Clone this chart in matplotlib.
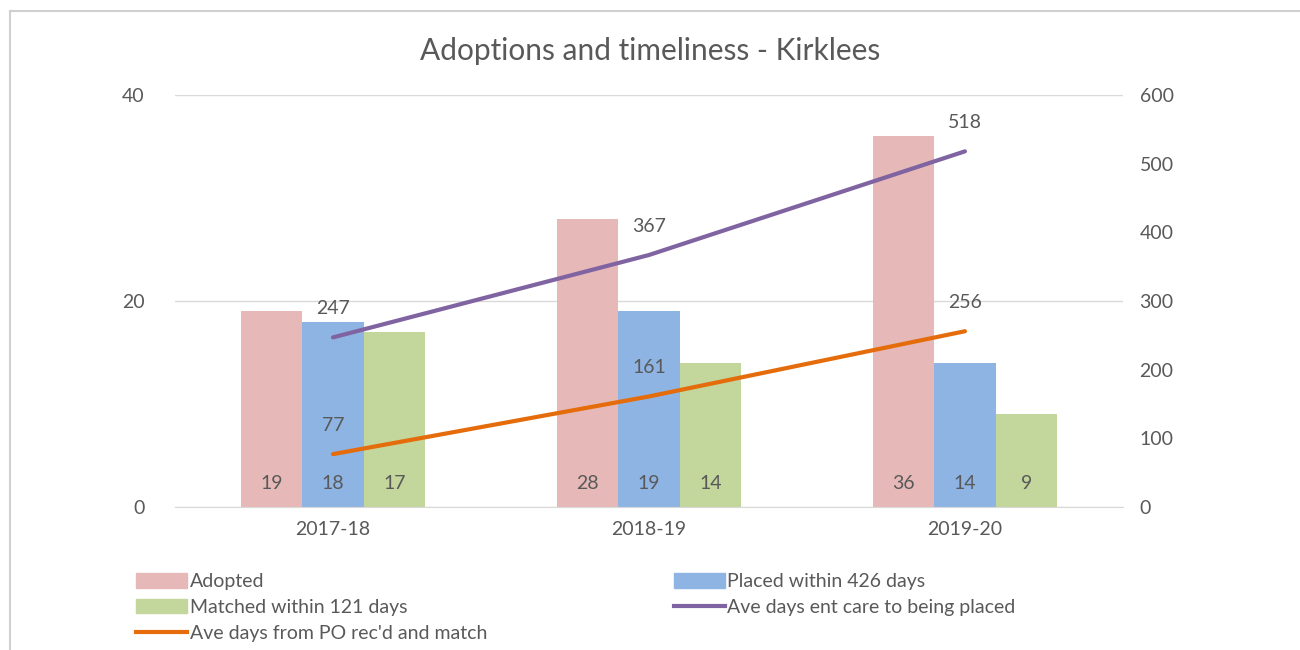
import matplotlib
matplotlib.use("Agg")
import matplotlib.pyplot as plt
import numpy as np
from matplotlib.lines import Line2D

plt.rcParams['font.family'] = ['Lato', 'DejaVu Sans']

categories = ["2017-18", "2018-19", "2019-20"]
adopted = [19, 28, 36]
placed = [18, 19, 14]
matched = [17, 14, 9]
ave_ent_care = [247, 367, 518]
ave_po_match = [77, 161, 256]

TXT = "#595959"
C_ADOPT = "#E6B9B8"
C_PLACED = "#8EB4E3"
C_MATCH = "#C3D69B"
C_PURPLE = "#8064A2"
C_ORANGE = "#E46C0A"
FS = 14

fig = plt.figure(figsize=(13, 6.5), dpi=100)
ax = fig.add_axes([0.1346, 0.22, 0.7292, 0.6338])
ax2 = ax.twinx()

x = np.arange(len(categories))
w = 0.194
b1 = ax.bar(x - w, adopted, w, color=C_ADOPT, zorder=2)
b2 = ax.bar(x, placed, w, color=C_PLACED, zorder=2)
b3 = ax.bar(x + w, matched, w, color=C_MATCH, zorder=2)

for bars, vals in ((b1, adopted), (b2, placed), (b3, matched)):
    for r, v in zip(bars, vals):
        ax.annotate(str(v), (r.get_x() + r.get_width() / 2, 0), xytext=(0, 17),
                    textcoords="offset points", ha="center", va="center",
                    fontsize=FS, color=TXT)

ax.set_xlim(-0.5, 2.5)
ax.set_ylim(0, 40)
ax.set_yticks([0, 20, 40])
ax.grid(axis="y", color="#D9D9D9", lw=1, zorder=0)
ax.set_axisbelow(True)
ax.set_xticks(x)
ax.set_xticklabels(categories)

ax2.plot(x, ave_ent_care, color=C_PURPLE, lw=3, solid_capstyle="round", zorder=3)
ax2.plot(x, ave_po_match, color=C_ORANGE, lw=3, solid_capstyle="round", zorder=3)
for vals in (ave_ent_care, ave_po_match):
    for xi, v in zip(x, vals):
        ax2.annotate(str(v), (xi, v), xytext=(0, 20.5), textcoords="offset points",
                     ha="center", va="center", fontsize=FS, color=TXT)
ax2.set_ylim(0, 600)
ax2.set_yticks(range(0, 601, 100))

for a in (ax, ax2):
    for s in a.spines.values():
        s.set_visible(False)
    a.tick_params(length=0, labelsize=FS, labelcolor=TXT)
ax.spines["bottom"].set_visible(True)
ax.spines["bottom"].set_color("#D9D9D9")
ax.tick_params(axis="y", pad=22)
ax2.tick_params(axis="y", pad=12)
ax.tick_params(axis="x", pad=10)

ax.set_zorder(ax2.get_zorder() - 1)
ax2.patch.set_visible(False)

fig.text(0.5, 0.922, "Adoptions and timeliness - Kirklees", ha="center", va="center",
         fontsize=21.5, color=TXT)

handles = [
    plt.Rectangle((0, 0), 1, 1, color=C_ADOPT),
    plt.Rectangle((0, 0), 1, 1, color=C_MATCH),
    Line2D([], [], color=C_ORANGE, lw=3),
    plt.Rectangle((0, 0), 1, 1, color=C_PLACED),
    Line2D([], [], color=C_PURPLE, lw=3),
]
labels = ["Adopted", "Matched within 121 days", "Ave days from PO rec'd and match",
          "Placed within 426 days", "Ave days ent care to being placed"]
leg = fig.legend(handles, labels, ncol=2, loc="upper left", bbox_to_anchor=(0.099, 0.13),
                 frameon=False, fontsize=FS, labelcolor=TXT, handlelength=2.6,
                 handleheight=0.75, handletextpad=0.15, columnspacing=9.6,
                 labelspacing=0.45, borderaxespad=0)

fig.add_artist(Line2D([0.008, 1.0], [0.983, 0.983], color="#D0D0D0", lw=1.5,
                      transform=fig.transFigure))
fig.add_artist(Line2D([0.008, 0.008], [0.0, 0.983], color="#D0D0D0", lw=1.5,
                      transform=fig.transFigure))

fig.savefig("out.png", dpi=100, facecolor="white")
